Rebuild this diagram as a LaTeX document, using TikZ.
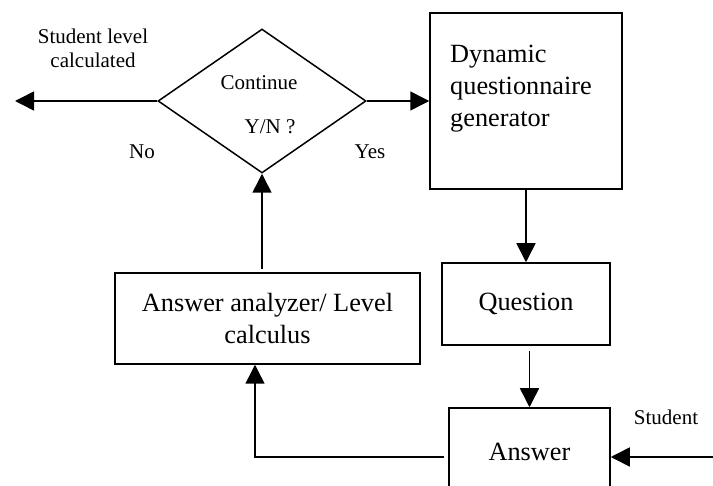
\documentclass[tikz,border=0pt]{standalone}
\usepackage{fontspec}
\setmainfont{Liberation Serif}
\usetikzlibrary{shapes.geometric,arrows.meta}
\begin{document}
\begin{tikzpicture}[x=1pt,y=-1pt,
  box/.style={draw, line width=1.5pt, inner sep=0pt},
  big/.style={font=\fontsize{26.3}{32}\selectfont},
  small/.style={font=\fontsize{21}{24}\selectfont},
  arr/.style={line width=1.5pt, -{Triangle[length=19pt,width=19pt]}},
  ln/.style={line width=1.5pt}]
\useasboundingbox (0,0) rectangle (713,486);
\clip (0,0) rectangle (713,486);
% nodes
\node[box, diamond, minimum width=208pt, minimum height=144pt] (dia) at (262,101) {};
\node[box, minimum width=192pt, minimum height=176pt] (dqg) at (526,101) {};
\node[big, anchor=west, align=left, inner sep=0pt] (dqgt) at (450,89) {Dynamic\\questionnaire\\generator};
\node[box, big, minimum width=168pt, minimum height=82pt] (q) at (526,304) {Question};
\node[box, big, minimum width=161pt, minimum height=88pt] (ans) at (529.5,452) {Answer};
\node[box, big, align=center, minimum width=305pt, minimum height=91pt] (an) at (267.5,318.5) {Answer analyzer/ Level\\calculus};
% labels
\node[small, align=center] (sl) at (93,48) {Student level\\calculated};
\node[small] (cont) at (259,83) {Continue};
\node[small] (yn) at (270,127) {Y/N ?};
\node[small] (no) at (142,152) {No};
\node[small] (yes) at (370,152) {Yes};
\node[small] (stl) at (666,417) {Student};
% coordinates
\coordinate (out) at (15,101);
\coordinate (stud) at (713,457);
\coordinate (turn) at (255,457);
% connectors
\draw[arr] (dia.west) -- (out);
\draw[arr] (dia.east) -- (dqg.west);
\draw[arr] (dqg.south) -- (q.north);
\draw[arr, shorten <=5pt] (q.south -| ans.north) -- (ans.north);
\draw[arr] (stud) -- (stud -| ans.east);
\draw[arr, shorten <=4pt] (stud -| ans.west) -- (turn) -- (turn |- an.south);
\draw[arr, shorten <=3pt] (an.north -| dia.south) -- (dia.south);
\end{tikzpicture}
\end{document}
